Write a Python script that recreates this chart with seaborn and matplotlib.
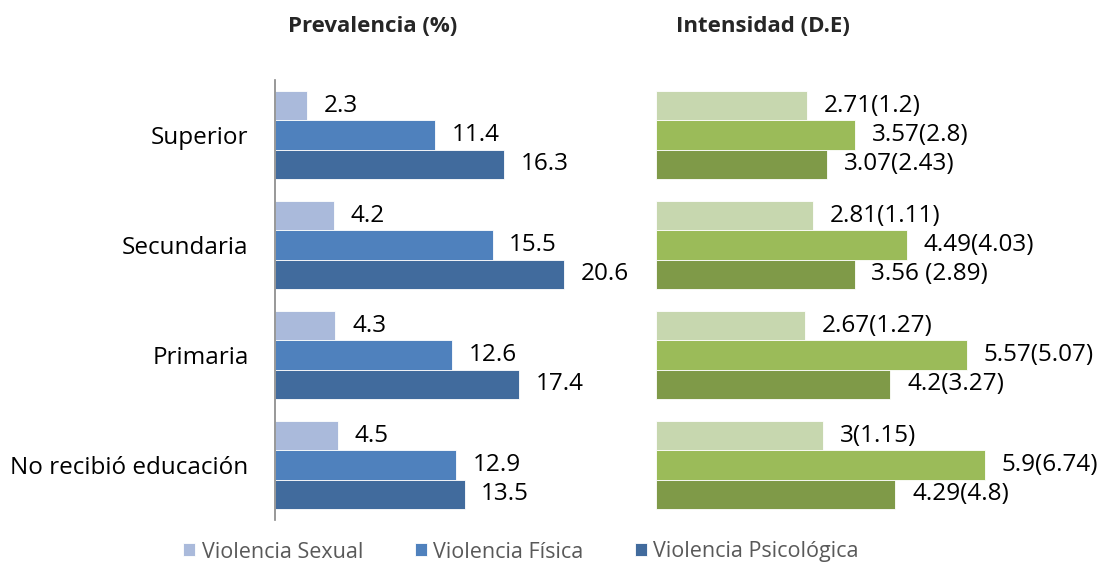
import matplotlib
matplotlib.use("Agg")
import matplotlib.pyplot as plt
import seaborn as sns
import pandas as pd

categories = ["Superior", "Secundaria", "Primaria", "No recibió educación"]
series = ["Violencia Sexual", "Violencia Física", "Violencia Psicológica"]

prev_sexual = [2.3, 4.2, 4.3, 4.5]
prev_fisica = [11.4, 15.5, 12.6, 12.9]
prev_psico = [16.3, 20.6, 17.4, 13.5]

int_sexual = [2.71, 2.81, 2.67, 3.0]
int_fisica = [3.57, 4.49, 5.57, 5.9]
int_psico = [3.07, 3.56, 4.2, 4.29]

int_labels_sexual = ["2.71(1.2)", "2.81(1.11)", "2.67(1.27)", "3(1.15)"]
int_labels_fisica = ["3.57(2.8)", "4.49(4.03)", "5.57(5.07)", "5.9(6.74)"]
int_labels_psico = ["3.07(2.43)", "3.56 (2.89)", "4.2(3.27)", "4.29(4.8)"]

blues = ["#AABADB", "#4F81BD", "#416B9D"]
greens = ["#C7D7AF", "#9BBB59", "#7F9A48"]

def long_df(a, b, c):
    rows = []
    for s, vals in zip(series, [a, b, c]):
        for cat, v in zip(categories, vals):
            rows.append({"cat": cat, "serie": s, "val": v})
    return pd.DataFrame(rows)

df_prev = long_df(prev_sexual, prev_fisica, prev_psico)
df_int = long_df(int_sexual, int_fisica, int_psico)

sns.set_style("white")
plt.rcParams["font.family"] = ["Open Sans", "DejaVu Sans"]

W, H = 1101, 566
fig = plt.figure(figsize=(W / 100, H / 100), dpi=100)

y0, y1 = 80, 520
axL = fig.add_axes([275 / W, 1 - y1 / H, 306 / W, (y1 - y0) / H])
axR = fig.add_axes([656 / W, 1 - y1 / H, 400 / W, (y1 - y0) / H])

sns.barplot(data=df_prev, y="cat", x="val", hue="serie", order=categories,
            hue_order=series, palette=blues, orient="h", width=0.8,
            saturation=1, edgecolor="white", linewidth=0.6, ax=axL, legend=True)
sns.barplot(data=df_int, y="cat", x="val", hue="serie", order=categories,
            hue_order=series, palette=greens, orient="h", width=0.8,
            saturation=1, edgecolor="white", linewidth=0.6, ax=axR, legend=False)

axL.set_xlim(0, 306 / 14.04)
axR.set_xlim(0, 400 / 55.8)
for ax in (axL, axR):
    ax.set_ylim(3.5, -0.5)
    ax.set_xlabel("")
    ax.set_ylabel("")
    ax.set_xticks([])
    for sp in ax.spines.values():
        sp.set_visible(False)
axR.set_yticks([])
axL.spines["left"].set_visible(True)
axL.spines["left"].set_color("#868686")
axL.spines["left"].set_linewidth(1.2)
axL.tick_params(axis="y", length=0, pad=19, labelsize=17.5, labelcolor="black")

prev_vals = [prev_sexual, prev_fisica, prev_psico]
for cont, vals in zip(axL.containers, prev_vals):
    axL.bar_label(cont, labels=[f"{v:g}" for v in vals], padding=12,
                  fontsize=17.5, color="black")

int_lbls = [int_labels_sexual, int_labels_fisica, int_labels_psico]
for cont, lbls in zip(axR.containers, int_lbls):
    axR.bar_label(cont, labels=lbls, padding=12, fontsize=17.5, color="black")

fig.text(373 / W, 1 - 27 / H, "Prevalencia (%)", ha="center", va="center",
         fontsize=16, fontweight="bold")
fig.text(763 / W, 1 - 27 / H, "Intensidad (D.E)", ha="center", va="center",
         fontsize=16, fontweight="bold")

handles, labels = axL.get_legend_handles_labels()
axL.get_legend().remove()
leg = fig.legend(handles, labels, loc="center", ncol=3,
                 bbox_to_anchor=(521 / W, 1 - 552 / H), frameon=False,
                 fontsize=15.5, handlelength=0.55, handleheight=0.55,
                 handletextpad=0.3, columnspacing=2.4)
for t in leg.get_texts():
    t.set_color("#595959")

fig.savefig("out.png", dpi=100)
